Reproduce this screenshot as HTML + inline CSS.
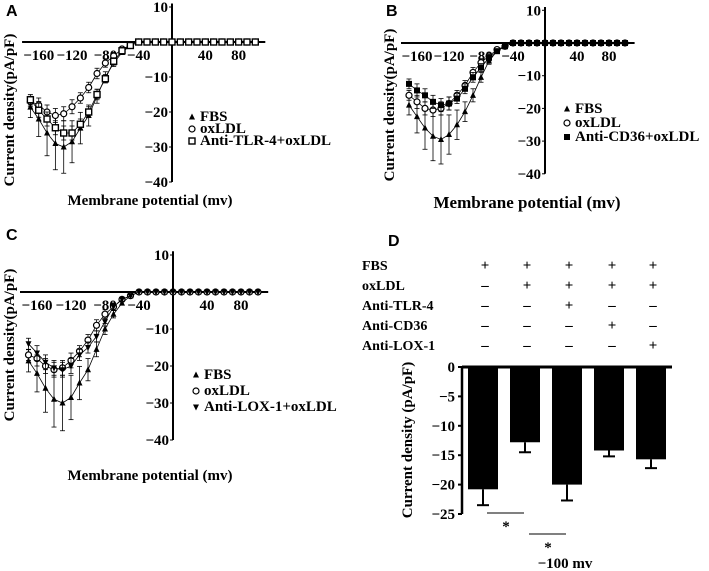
<!DOCTYPE html>
<html><head><meta charset="utf-8"><style>
body{margin:0;background:#fff}
svg{display:block;font-family:"Liberation Serif",serif;font-weight:bold}
.sans{font-family:"Liberation Sans",sans-serif}
</style></head><body>
<svg id="fig" width="709" height="571" viewBox="0 0 709 571"></svg>
<script>
const voltages=[-170,-160,-150,-140,-130,-120,-110,-100,-90,-80,-70,-60,-50,-40,-30,-20,-10,0,10,20,30,40,50,60,70,80,90,100];
const fbsA=[-18.6,-22,-26,-29,-30,-28.5,-24.6,-21,-15.5,-10,-6,-3,-1,0,0,0,0,0,0,0,0,0,0,0,0,0,0,0];
const fbsErr=[3,5,6.5,7.5,7.5,6,4.5,3,2,1.5,1,0.5,0.3,0,0,0,0,0,0,0,0,0,0,0,0,0,0,0];
const oxA=[-17,-18,-20,-21,-20.5,-18.5,-16,-13,-9,-6,-4,-2,-1,0,0,0,0,0,0,0,0,0,0,0,0,0,0,0];
const tlrA=[-16.5,-19.5,-22,-24.5,-26,-26,-23.5,-20,-15,-10.5,-5.5,-2.5,-1,0,0,0,0,0,0,0,0,0,0,0,0,0,0,0];
const fbsB=[-19,-22.5,-26,-28.5,-29.5,-28,-25,-21,-16,-10.5,-5.5,-2.5,-1,0,0,0,0,0,0,0,0,0,0,0,0,0,0,0];
const oxB=[-16,-18,-20,-20.5,-20,-18.5,-16,-13,-9,-6,-4,-2,-1,0,0,0,0,0,0,0,0,0,0,0,0,0,0,0];
const cd36B=[-12.5,-14.5,-16,-18,-19,-18.5,-17,-14,-10.5,-7.5,-4.5,-2.5,-1,0,0,0,0,0,0,0,0,0,0,0,0,0,0,0];
const loxC=[-14,-16.5,-19,-20.5,-21,-20,-17,-15,-12,-8,-4,-2,-1,0,0,0,0,0,0,0,0,0,0,0,0,0,0,0];
const smallErr=[1.5,2,2,2,2,2,1.5,1.5,1.5,1.2,1,0.5,0.3,0,0,0,0,0,0,0,0,0,0,0,0,0,0,0];
const yTicks=[10,-10,-20,-30,-40];
const xTicks=[-160,-120,-80,-40,40,80];
const barLabels=["FBS","oxLDL+","TLR4","CD36","LOX1"];
const barValues=[-20.8,-12.8,-20,-14.2,-15.7];
const barErrors=[2.7,1.7,2.7,1.0,1.5];
const barTicks=[0,-5,-10,-15,-20,-25];
const tableRows=["FBS","oxLDL","Anti-TLR-4","Anti-CD36","Anti-LOX-1"];
const tableSigns=[["+","+","+","+","+"],["–","+","+","+","+"],["–","–","+","–","–"],["–","–","–","+","–"],["–","–","–","–","+"]];

const svg=document.getElementById('fig');
const NS='http://www.w3.org/2000/svg';
function mk(tag,attrs,parent,txt){const e=document.createElementNS(NS,tag);for(const k in attrs)e.setAttribute(k,attrs[k]);if(txt!==undefined)e.textContent=txt;(parent||svg).appendChild(e);return e;}

function marker(g,type,x,y){
  if(type==='star'){mk('path',{d:`M${x} ${y-3.5}L${x+3} ${y+2.5}L${x-3} ${y+2.5}Z`,fill:'#000'},g);}
  else if(type==='circle'){mk('circle',{cx:x,cy:y,r:3,fill:'#fff',stroke:'#000','stroke-width':1.2},g);}
  else if(type==='square'){mk('rect',{x:x-3,y:y-3,width:6,height:6,fill:'#fff',stroke:'#000','stroke-width':1.4},g);}
  else if(type==='fsquare'){mk('rect',{x:x-3,y:y-3,width:6,height:6,fill:'#000'},g);}
  else if(type==='fstar'){mk('path',{d:`M${x} ${y+3.5}L${x+3} ${y-2.5}L${x-3} ${y-2.5}Z`,fill:'#000'},g);}
}

function panel(cfg){
  const g=mk('g',{});
  
  
  const X=v=>cfg.ax+v*cfg.sx, Y=v=>cfg.y0-v*cfg.sy;
  const t=mk('text',{x:cfg.lx,y:cfg.ly,'font-size':16,class:'sans'},g,cfg.letter);
  
  const xa=mk('line',{x1:X(-180),x2:X(112),y1:Y(0),y2:Y(0),stroke:'#000','stroke-width':2},g);
  
  const ya=mk('line',{x1:cfg.ax,x2:cfg.ax,y1:Y(11),y2:Y(-40),stroke:'#000','stroke-width':2},g);
  
  yTicks.forEach(v=>{mk('line',{x1:cfg.ax-3,x2:cfg.ax,y1:Y(v),y2:Y(v),stroke:'#000'},g);
    const l=mk('text',{x:cfg.ax-4,y:Y(v)+5,'font-size':15,'text-anchor':'end'},g,v<0?'−'+(-v):''+v);
    });
  xTicks.forEach(v=>{const l=mk('text',{x:X(v),y:Y(0)+18,'font-size':15,'text-anchor':'middle'},g,v<0?'−'+(-v):''+v);
    });
  const yt=mk('text',{transform:`translate(${cfg.ytx},${cfg.yty}) rotate(-90)`,'font-size':15,'text-anchor':'middle'},g,'Current density(pA/pF)');
  
  const xt=mk('text',{x:cfg.xtx,y:cfg.xty,'font-size':cfg.xtfs,'text-anchor':'middle'},g,'Membrane potential (mv)');
  
  cfg.series.forEach((s,si)=>{
    const sg=mk('g',{},g);
    
    
    const pts=voltages.map((v,i)=>X(v)+','+Y(s.vals[i])).join(' ');
    mk('polyline',{points:pts,fill:'none',stroke:'#000','stroke-width':0.8},sg);
    voltages.forEach((v,i)=>{const e=s.err[i];if(e>0){
      mk('line',{x1:X(v),x2:X(v),y1:Y(s.vals[i]-e),y2:Y(s.vals[i]+e),stroke:'#000','stroke-width':0.8},sg);
      mk('line',{x1:X(v)-2.5,x2:X(v)+2.5,y1:Y(s.vals[i]-e),y2:Y(s.vals[i]-e),stroke:'#000','stroke-width':0.8},sg);
      mk('line',{x1:X(v)-2.5,x2:X(v)+2.5,y1:Y(s.vals[i]+e),y2:Y(s.vals[i]+e),stroke:'#000','stroke-width':0.8},sg);}});
    voltages.forEach((v,i)=>marker(sg,s.m,X(v),Y(s.vals[i])));
    const le=mk('g',{},g);
    
    marker(le,s.m,cfg.legx,cfg.legy+si*cfg.legdy-4);
    mk('text',{x:cfg.legx+8,y:cfg.legy+si*cfg.legdy,'font-size':15},le,s.label);
  });
}

panel({name:'panel-a',letter:'A',lx:6,ly:16,ax:172,y0:42,sx:0.833,sy:3.5,ytx:14,yty:110,xtx:150,xty:205,xtfs:15,legx:192,legy:121,legdy:12,
  series:[{label:'FBS',vals:fbsA,err:fbsErr,m:'star'},{label:'oxLDL',vals:oxA,err:smallErr,m:'circle'},{label:'Anti-TLR-4+oxLDL',vals:tlrA,err:smallErr,m:'square'}]});
panel({name:'panel-b',letter:'B',lx:386,ly:16,ax:545,y0:43,sx:0.8,sy:3.27,ytx:394,yty:105,xtx:527,xty:208,xtfs:17,legx:567,legy:113,legdy:14,
  series:[{label:'FBS',vals:fbsB,err:fbsErr,m:'star'},{label:'oxLDL',vals:oxB,err:smallErr,m:'circle'},{label:'Anti-CD36+oxLDL',vals:cd36B,err:smallErr,m:'fsquare'}]});
panel({name:'panel-c',letter:'C',lx:6,ly:240,ax:173,y0:292,sx:0.85,sy:3.7,ytx:14,yty:345,xtx:150,xty:480,xtfs:15,legx:196,legy:379,legdy:16,
  series:[{label:'FBS',vals:fbsA,err:fbsErr,m:'star'},{label:'oxLDL',vals:oxA,err:smallErr,m:'circle'},{label:'Anti-LOX-1+oxLDL',vals:loxC,err:smallErr,m:'fstar'}]});

(function(){
  const g=mk('g',{});
  
  const t=mk('text',{x:388,y:246,'font-size':16,class:'sans'},g,'D');
  
  const ax=462,y0=367,sy=147/25,x0=483,dx=42,bw=30;
  const Y=v=>y0-v*sy, X=i=>x0+i*dx;
  const colX=[485,527,569,612,653];
  tableRows.forEach((r,ri)=>{const y=270+ri*20;
    const l=mk('text',{x:362,y:y,'font-size':14},g,r);
    
    tableSigns[ri].forEach((s,ci)=>{const c=mk('text',{x:colX[ci],y:y,'font-size':15,'text-anchor':'middle'},g,s);
      });});
  const ya=mk('line',{x1:ax,x2:ax,y1:Y(0)-1,y2:Y(-25),stroke:'#000','stroke-width':2.5},g);
  
  const xa=mk('line',{x1:ax,x2:672,y1:Y(0),y2:Y(0),stroke:'#000','stroke-width':3},g);
  
  barTicks.forEach(v=>{mk('line',{x1:ax-4,x2:ax,y1:Y(v),y2:Y(v),stroke:'#000','stroke-width':2},g);
    const l=mk('text',{x:ax-7,y:Y(v)+5,'font-size':15,'text-anchor':'end'},g,v<0?'−'+(-v):''+v);
    });
  barValues.forEach((v,i)=>{
    const b=mk('rect',{x:X(i)-bw/2,y:Y(0),width:bw,height:Y(v)-Y(0),fill:'#000'},g);
    
    const e=v-barErrors[i];
    mk('line',{x1:X(i),x2:X(i),y1:Y(v),y2:Y(e),stroke:'#000','stroke-width':2},g);
    mk('line',{x1:X(i)-6,x2:X(i)+6,y1:Y(e),y2:Y(e),stroke:'#000','stroke-width':2},g);
  });
  const yt=mk('text',{transform:'translate(412,440) rotate(-90)','font-size':15,'text-anchor':'middle'},g,'Current density (pA/pF)');
  
  [[487,524,513,506,527],[529,566,534,548,548]].forEach(s=>{
    const sg=mk('g',{},g);
    mk('line',{x1:s[0],x2:s[1],y1:s[2],y2:s[2],stroke:'#000','stroke-width':1},sg);
    mk('text',{x:s[3],y:s[4]+4,'font-size':15,'text-anchor':'middle'},sg,'*');});
  const xt=mk('text',{x:565,y:568,'font-size':15,'text-anchor':'middle'},g,'−100 mv');
  
})();
</script>
</body></html>
